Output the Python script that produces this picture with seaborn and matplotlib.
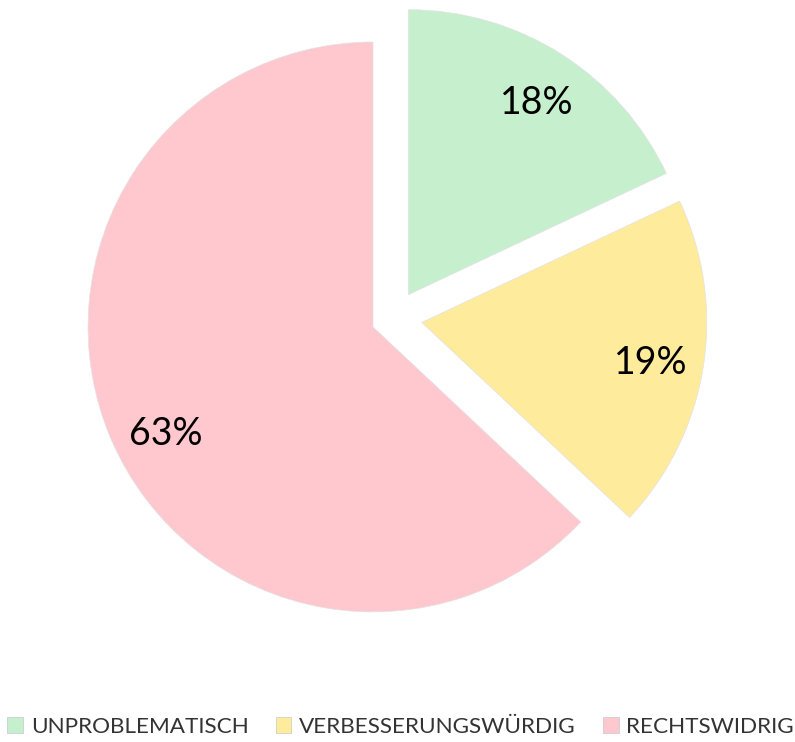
import matplotlib
matplotlib.use("Agg")
import matplotlib.pyplot as plt
import seaborn as sns
from matplotlib.patches import Patch
from matplotlib import font_manager

categories = ["UNPROBLEMATISCH", "VERBESSERUNGSWÜRDIG", "RECHTSWIDRIG"]
values = [18, 19, 63]
colors = ["#C6EFCE", "#FFEB9C", "#FFC7CE"]
explode = [0.097, 0.10, 0.079]

sns.set_theme(style="white")
names = {f.name for f in font_manager.fontManager.ttflist}
label_font = "Lato" if "Lato" in names else "DejaVu Sans"
plt.rcParams["font.family"] = [label_font, "DejaVu Sans"]

fig = plt.figure(figsize=(7.95, 7.42), dpi=100)
ax = fig.add_axes([0, 0, 1, 1])
wedges, texts, autotexts = ax.pie(
    values, colors=colors, explode=explode, startangle=90, counterclock=False,
    autopct=lambda p: f"{p:.0f}%", pctdistance=0.82,
    wedgeprops=dict(linewidth=0.5, edgecolor="#e2e2e2"),
    textprops=dict(fontsize=27, color="black"),
)
# small label nudges (in radius units) to match the reference placement
nudges = [(0.01, -0.018), (-0.005, -0.015), (0.025, -0.05)]
for t, (dx, dy) in zip(autotexts, nudges):
    x, y = t.get_position()
    t.set_position((x + dx, y + dy))

ax.set_xlim(-1.381, 1.408)
ax.set_ylim(-1.488, 1.116)
ax.set_aspect("equal")
ax.axis("off")

handles = [Patch(facecolor=c, edgecolor="#c8c8c8", linewidth=0.5) for c in colors]
fig.legend(handles, categories, loc="center", bbox_to_anchor=(0.504, 0.02), ncol=3,
           frameon=False, handlelength=0.7, handleheight=0.7,
           handletextpad=0.35, columnspacing=1.2, borderaxespad=0,
           prop=dict(size=16.2), labelcolor="#333333")

fig.savefig("out.png", dpi=100, facecolor="white")
